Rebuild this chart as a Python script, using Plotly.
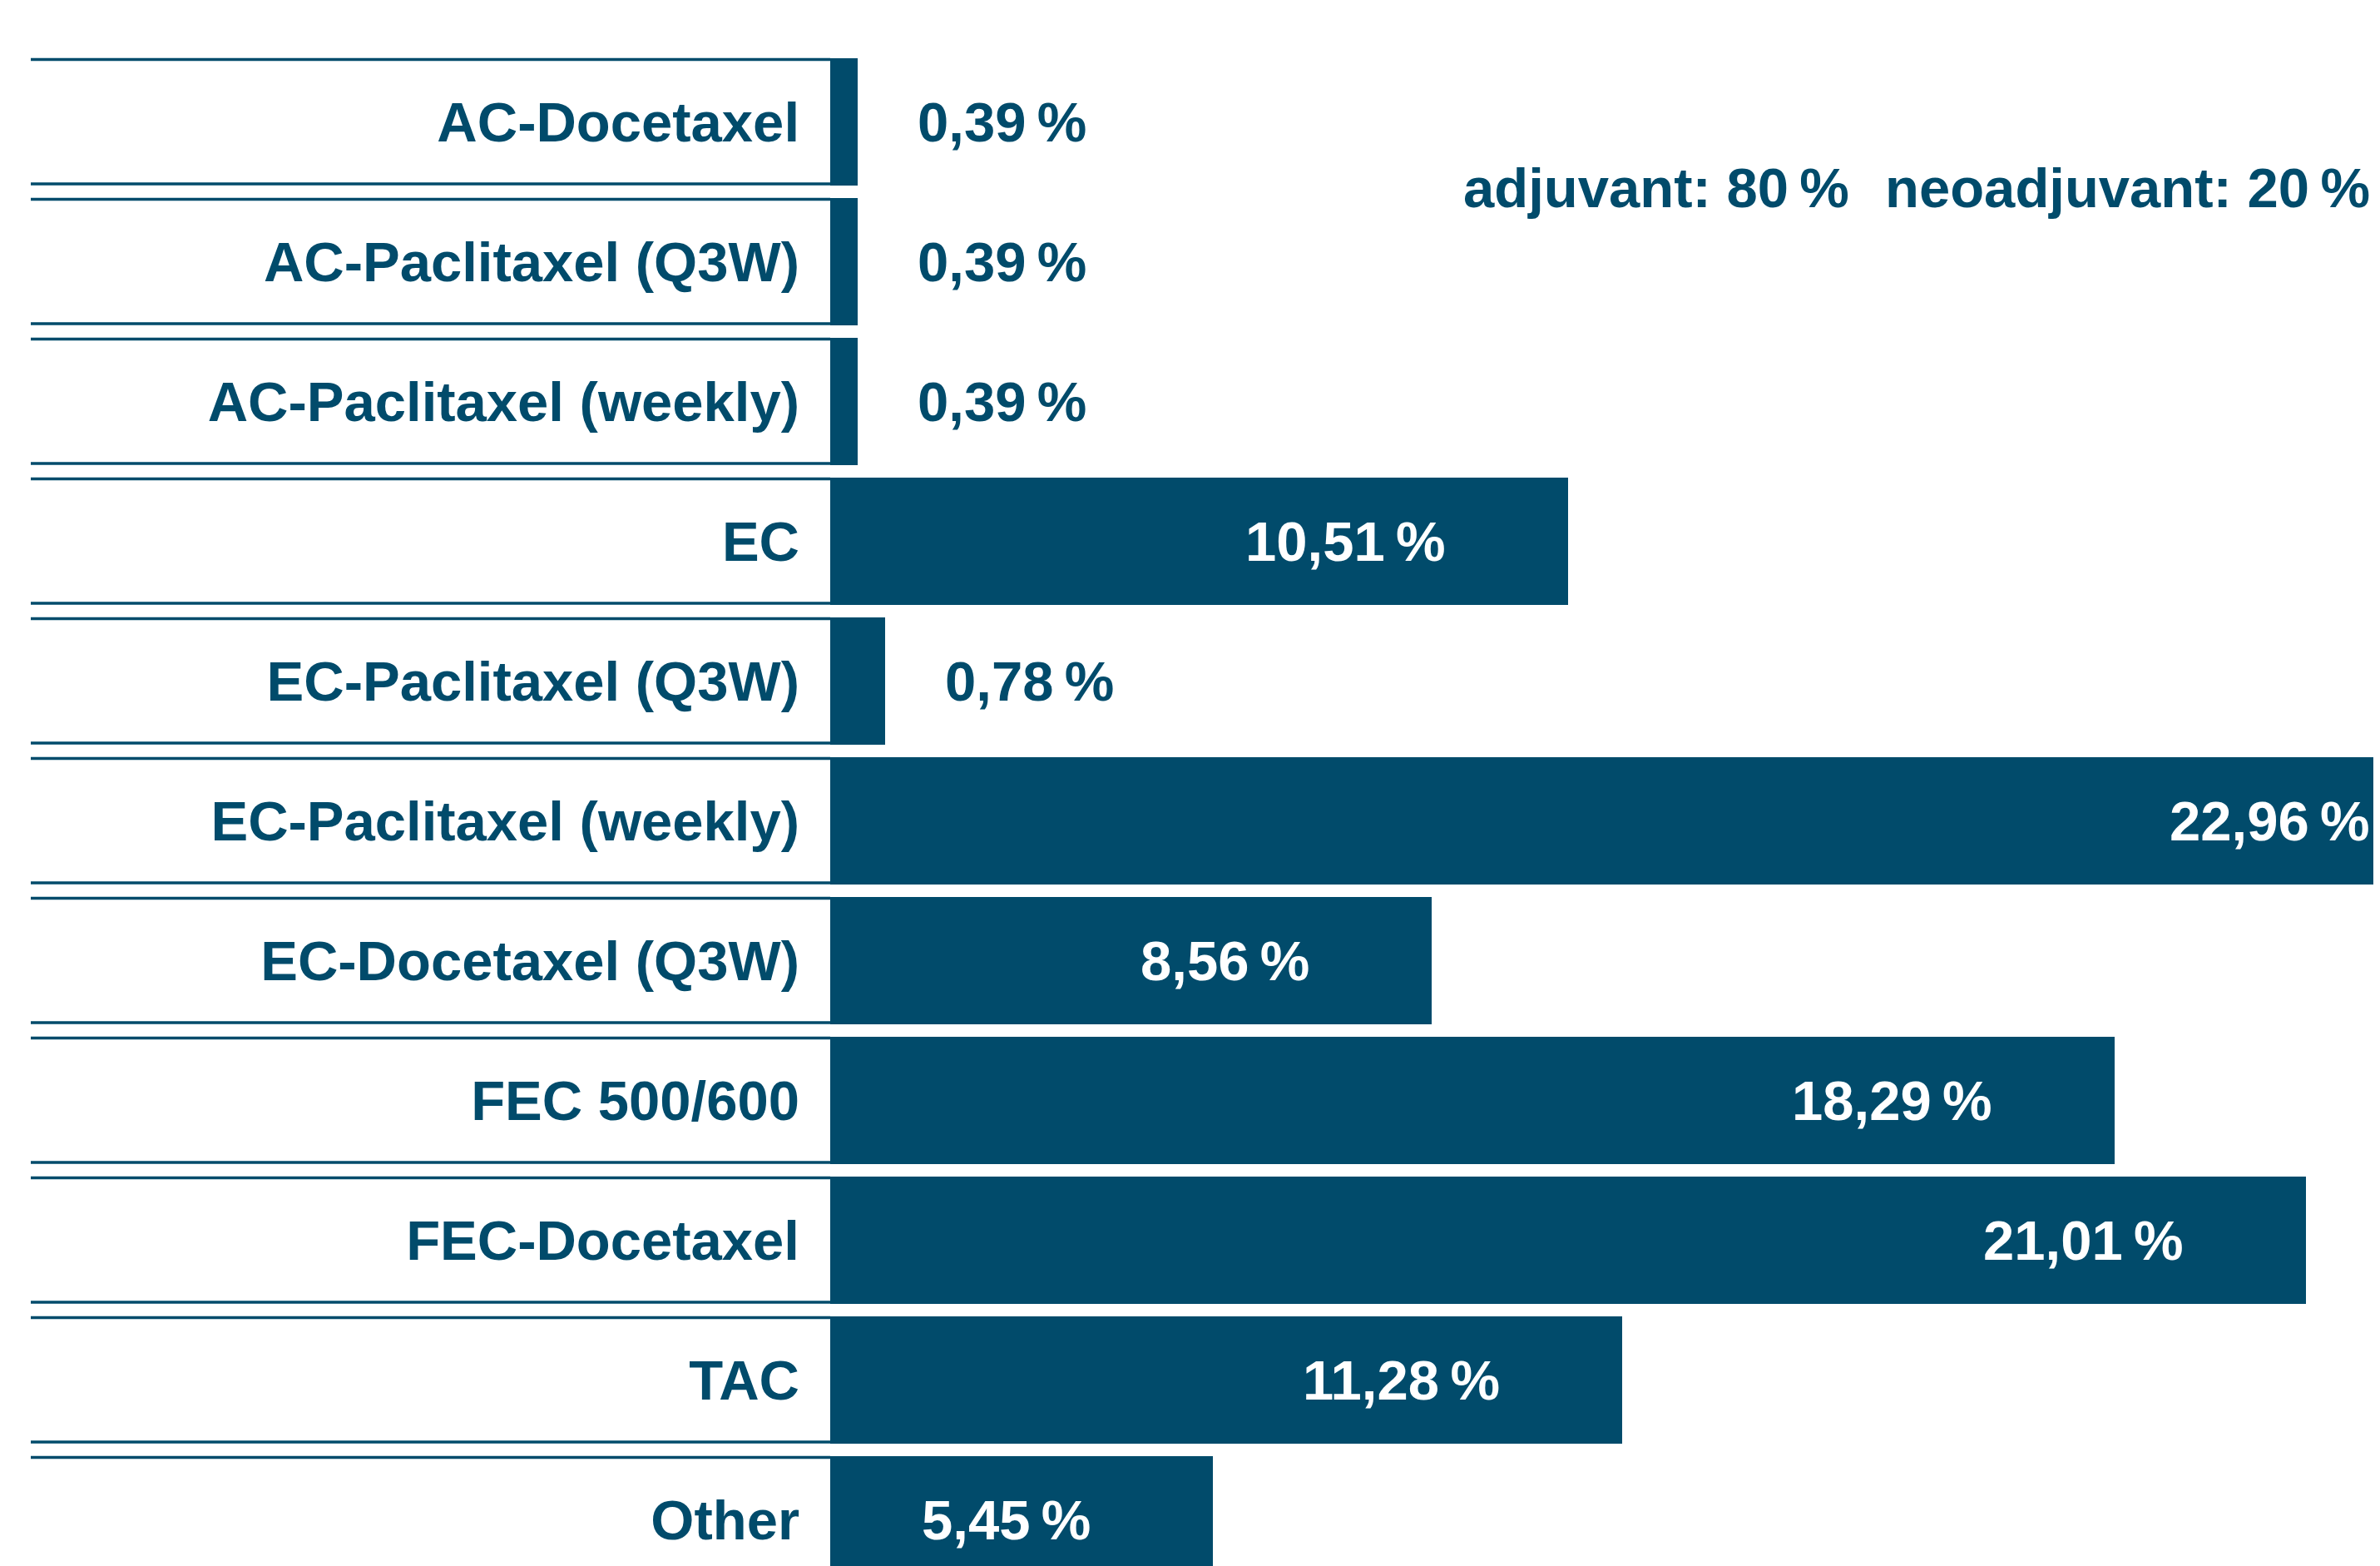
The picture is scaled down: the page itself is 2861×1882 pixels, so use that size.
import plotly.graph_objects as go

# ---- data ----
regimens = [
    "AC-Docetaxel",
    "AC-Paclitaxel (Q3W)",
    "AC-Paclitaxel (weekly)",
    "EC",
    "EC-Paclitaxel (Q3W)",
    "EC-Paclitaxel (weekly)",
    "EC-Docetaxel (Q3W)",
    "FEC 500/600",
    "FEC-Docetaxel",
    "TAC",
    "Other",
]
shares = [0.39, 0.39, 0.39, 10.51, 0.78, 22.96, 8.56, 18.29, 21.01, 11.28, 5.45]
notes = ["adjuvant: 80\u2009%", "neoadjuvant: 20\u2009%"]

# ---- style ----
PAGE_W, PAGE_H = 2861, 1882
OFF = 8                      # default body margin of the html page
W, H = PAGE_W - OFF, PAGE_H - OFF
DARK = "#014B6B"
FONT = "Liberation Sans, Arial, Helvetica, sans-serif"
FS = 67
LEFT = 998 - OFF             # px (figure) where bars start
XMAX = 22.07                 # visible x range (largest bar is cut at right edge)
BARW = 0.91
PITCH = 168.0
FIRST_CENTER = 146.5 - OFF   # px (figure) of first row centre
ROW_TOP = -FIRST_CENTER / PITCH
ROW_BOT = (H - FIRST_CENTER) / PITCH


def fmt(v):
    return f"{v:.2f}".replace(".", ",") + "\u2009%"


fig = go.Figure()
fig.add_trace(go.Bar(
    y=regimens, x=shares, orientation="h", width=BARW,
    marker=dict(color=DARK, line=dict(width=0)),
    hoverinfo="skip",
))

annotations = []
for name, v in zip(regimens, shares):
    inside = v > 2
    clipped = v > XMAX
    annotations.append(dict(
        x=min(v, XMAX), y=name, xref="x", yref="y",
        text="<b>" + fmt(v) + "</b>", showarrow=False,
        xanchor="right" if inside else "left",
        yanchor="middle",
        xshift=(-10 if clipped else -145) if inside else 70,
        font=dict(family=FONT, size=FS, color="white" if inside else DARK),
    ))

note_y = 1 - (226 - OFF) / H
annotations.append(dict(
    x=(1757 - OFF - LEFT) / (W - LEFT), y=note_y, xref="paper", yref="paper",
    text="<b>" + notes[0] + "</b>", showarrow=False, xanchor="left", yanchor="middle",
    font=dict(family=FONT, size=FS, color=DARK)))
annotations.append(dict(
    x=(2851 - OFF - LEFT) / (W - LEFT), y=note_y, xref="paper", yref="paper",
    text="<b>" + notes[1] + "</b>", showarrow=False, xanchor="right", yanchor="middle",
    font=dict(family=FONT, size=FS, color=DARK)))

shapes = []
x0p = (37 - OFF - LEFT) / (W - LEFT)
for i, _ in enumerate(regimens):
    for yy in (i - BARW / 2 + 0.009, i + BARW / 2 - 0.012):
        shapes.append(dict(
            type="line", xref="paper", yref="y",
            x0=x0p, x1=0, y0=yy, y1=yy,
            line=dict(color=DARK, width=3.5),
        ))

fig.update_layout(
    width=W, height=H,
    margin=dict(l=LEFT, r=0, t=0, b=0, autoexpand=False),
    paper_bgcolor="white", plot_bgcolor="white",
    showlegend=False,
    bargap=0,
    annotations=annotations,
    shapes=shapes,
    xaxis=dict(range=[0, XMAX], visible=False, fixedrange=True),
    yaxis=dict(
        type="category", categoryorder="array", categoryarray=regimens,
        range=[ROW_BOT, ROW_TOP], autorange=False,
        showgrid=False, zeroline=False, showline=False,
        ticks="", ticklabelstandoff=36,
        tickfont=dict(family=FONT, size=FS, color=DARK, weight="bold"),
        fixedrange=True,
    ),
)

fig.write_html("out.html")
